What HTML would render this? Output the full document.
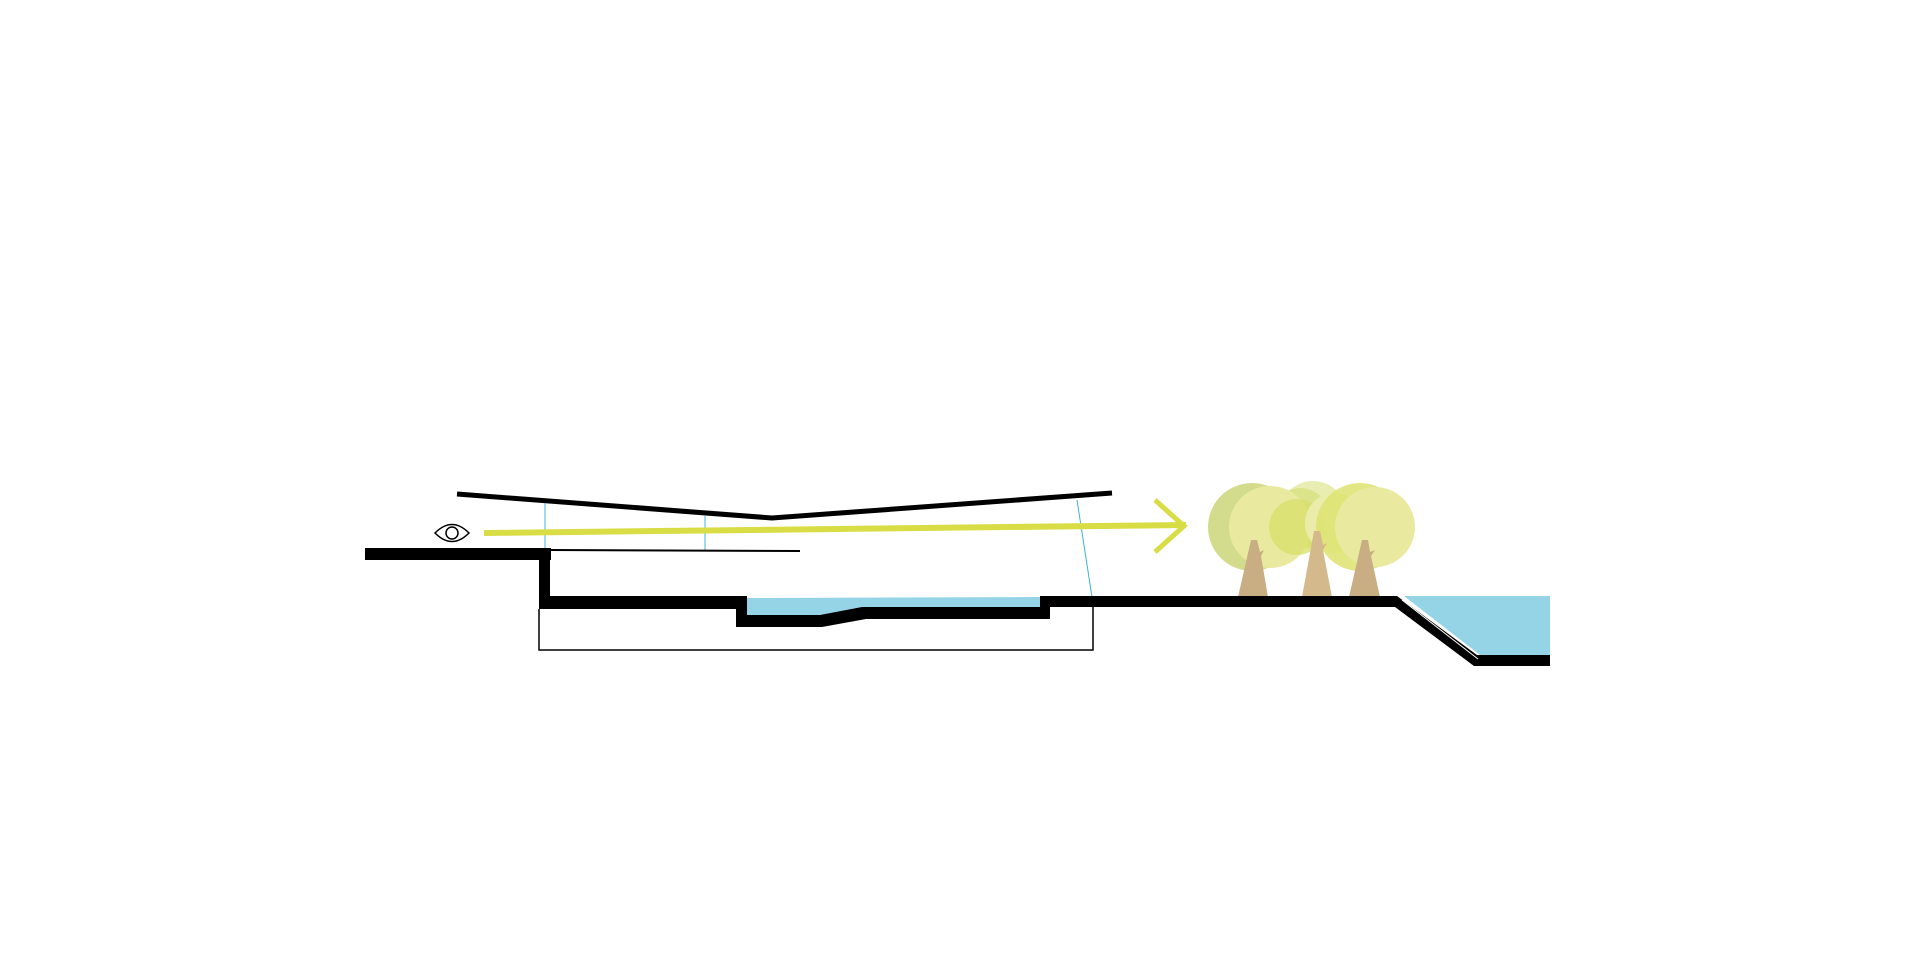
<!DOCTYPE html>
<html><head><meta charset="utf-8"><style>html,body{margin:0;padding:0;background:#fff}svg{display:block}</style></head>
<body>
<svg width="1920" height="960" viewBox="0 0 1920 960" xmlns="http://www.w3.org/2000/svg">
<rect width="1920" height="960" fill="#fff"/>
<!-- trees -->
<g>
<circle cx="1313" cy="515" r="34" fill="#e8eba8" opacity="0.9"/>
<circle cx="1300" cy="518" r="30" fill="#d6e07a" opacity="0.7"/>
<circle cx="1252" cy="527" r="44" fill="#d3dc8c"/>
<circle cx="1270" cy="527" r="41" fill="#e9e9a0"/>
<circle cx="1297" cy="527" r="28" fill="#d8df6a" opacity="0.75"/>
<circle cx="1335" cy="523" r="30" fill="#ecedb0" opacity="0.9"/>
<circle cx="1360" cy="527" r="44" fill="#dde36e" opacity="0.85"/>
<circle cx="1375" cy="527" r="40" fill="#e9e9a0"/>
<polygon points="1251,540 1257,540 1260,552 1264,550 1261,556 1268,597 1238,597" fill="#c9ae83"/>
<polygon points="1314,531 1320,531 1323,545 1327,543 1323,550 1332,597 1302,597" fill="#d3b98c"/>
<polygon points="1362,540 1368,540 1370,552 1375,550 1371,556 1380,597 1349,597" fill="#c9ae83"/>
</g>
<!-- roof -->
<polyline points="457,494 772,518 1112,493" fill="none" stroke="#000" stroke-width="5"/>
<!-- blue verticals -->
<line x1="545" y1="503" x2="545" y2="551" stroke="#3cb4e0" stroke-width="1"/>
<line x1="705" y1="516" x2="705" y2="551" stroke="#3cb4e0" stroke-width="1"/>
<line x1="1077" y1="500" x2="1092" y2="597" stroke="#3cb4e0" stroke-width="1"/>
<!-- sight line -->
<line x1="484" y1="533" x2="1186" y2="525" stroke="#d9dd45" stroke-width="6"/>
<polyline points="1155,500 1184,526 1155,552" fill="none" stroke="#d9dd45" stroke-width="5"/>
<!-- eye -->
<path d="M435,533 Q452,516 469,533 Q452,550 435,533 Z" fill="none" stroke="#000" stroke-width="1.5"/>
<circle cx="452" cy="533" r="6" fill="none" stroke="#000" stroke-width="1.5"/>
<!-- left ground -->
<rect x="365" y="548" width="186" height="12" fill="#000"/>
<rect x="539" y="548" width="11" height="61" fill="#000"/>
<line x1="550" y1="550" x2="800" y2="551" stroke="#000" stroke-width="2"/>
<!-- pool water -->
<polygon points="747,598 1040,597 1040,609 864,609 820,615 747,615" fill="#95d4e6"/>
<!-- ground & pool outline -->
<polygon points="539,596 747,596 747,615 820,615 862,607 1040,607 1040,596 1397,596 1477,655 1550,655 1550,666 1474,666 1395,607 1050,607 1050,619 866,619 822,627 736,627 736,609 539,609" fill="#000"/>
<line x1="1402" y1="600" x2="1478" y2="659" stroke="#fff" stroke-width="1"/>
<!-- right water -->
<polygon points="1404,596 1550,596 1550,655 1480,655" fill="#95d4e6"/>
<!-- thin foundation rect -->
<polyline points="539,609 539,650 1093,650 1093,607" fill="none" stroke="#000" stroke-width="1.5"/>
</svg>
</body></html>
